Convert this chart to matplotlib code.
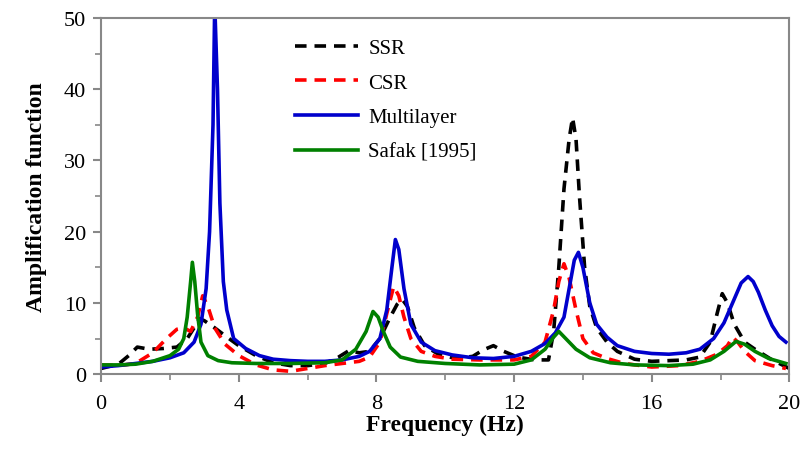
import matplotlib
matplotlib.use("Agg")
from matplotlib import pyplot as plt
from matplotlib.ticker import MultipleLocator

# SSR (black dashed)
ssr_f = [0, 0.5, 0.8, 1.05, 1.4, 1.8, 2.2, 2.5, 2.7, 2.85, 3.0, 3.3, 3.6, 4.0, 4.5, 5.0, 5.5, 6.0, 6.5, 6.9,
         7.2, 7.5, 7.8, 8.1, 8.4, 8.6, 8.75, 8.9, 9.1, 9.4, 9.8, 10.3, 10.8, 11.1, 11.4, 11.7, 12.1, 12.6,
         13.0, 13.15, 13.3, 13.45, 13.6, 13.7, 13.8, 13.9, 14.05, 14.2, 14.4, 14.7, 15.0, 15.5, 16.0, 16.5, 17.0,
         17.4, 17.7, 17.9, 18.05, 18.2, 18.4, 18.7, 19.0, 19.5, 20.0]
ssr_v = [0.8, 1.4, 2.6, 3.8, 3.5, 3.6, 3.8, 5.0, 6.5, 7.8, 7.5, 6.5, 5.4, 4.0, 2.6, 1.6, 1.2, 1.2, 1.5, 2.4,
         3.3, 3.0, 3.2, 5.0, 8.0, 9.8, 10.5, 9.5, 6.5, 4.0, 2.8, 2.2, 2.5, 3.4, 4.0, 3.2, 2.4, 2.0,
         2.0, 6.0, 15.0, 26.0, 33.0, 36.0, 33.0, 25.0, 15.0, 9.5, 6.5, 4.5, 3.2, 2.1, 1.8, 1.9, 2.0,
         2.4, 4.5, 8.5, 11.3, 10.0, 7.0, 4.5, 3.5, 2.0, 0.8]

# CSR (red dashed)
csr_f = [0, 0.5, 1.0, 1.5, 1.9, 2.2, 2.4, 2.6, 2.8, 2.95, 3.1, 3.3, 3.6, 4.0, 4.5, 5.0, 5.5, 6.0, 6.5, 7.0,
         7.5, 7.8, 8.1, 8.3, 8.5, 8.65, 8.8, 9.0, 9.3, 9.7, 10.2, 11.0, 12.0, 12.5, 12.9, 13.15, 13.3, 13.45,
         13.6, 13.8, 14.0, 14.3, 14.7, 15.2, 16.0, 16.8, 17.4, 17.9, 18.2, 18.35, 18.5, 18.7, 19.0, 19.5, 19.9]
csr_v = [1.3, 1.2, 1.5, 3.0, 5.0, 6.3, 6.5, 6.0, 8.0, 11.0, 9.5, 6.5, 4.2, 2.6, 1.3, 0.6, 0.4, 0.8, 1.2, 1.5,
         1.8, 2.4, 4.5, 8.5, 12.3, 11.0, 8.0, 5.0, 3.2, 2.5, 2.1, 2.0, 2.0, 2.5, 4.5, 9.0, 13.0, 15.5,
         13.5, 9.0, 5.0, 3.0, 2.2, 1.5, 1.0, 1.2, 1.8, 2.8, 4.0, 5.2, 4.5, 3.2, 1.9, 1.2, 0.8]

# Multilayer (blue)
mul_f = [0, 0.5, 1.0, 1.5, 2.0, 2.4, 2.7, 2.9, 3.05, 3.15, 3.25, 3.3, 3.38, 3.45, 3.55, 3.65, 3.85, 4.2, 4.6,
         5.0, 5.5, 6.0, 6.5, 7.0, 7.5, 7.8, 8.1, 8.3, 8.45, 8.55, 8.65, 8.8, 9.0, 9.3, 9.7, 10.2, 10.8, 11.4,
         12.0, 12.5, 12.9, 13.2, 13.45, 13.6, 13.75, 13.87, 14.0, 14.2, 14.4, 14.7, 15.0, 15.5, 16.0, 16.5,
         17.0, 17.4, 17.8, 18.1, 18.35, 18.6, 18.8, 18.95, 19.1, 19.3, 19.5, 19.7, 19.9]
mul_v = [1.0, 1.2, 1.5, 1.8, 2.3, 3.0, 4.5, 7.0, 12.0, 20.0, 35.0, 52.0, 40.0, 24.0, 13.0, 9.0, 5.0, 3.6, 2.6,
         2.1, 1.9, 1.8, 1.8, 2.0, 2.5, 3.2, 5.0, 9.0, 15.0, 18.9, 17.5, 12.0, 7.0, 4.5, 3.3, 2.7, 2.3, 2.2,
         2.5, 3.2, 4.3, 5.8, 8.0, 12.0, 16.0, 17.1, 15.0, 10.0, 7.0, 5.2, 4.0, 3.2, 2.9, 2.8,
         3.0, 3.5, 5.0, 7.2, 10.0, 12.8, 13.7, 13.0, 11.5, 9.0, 6.8, 5.3, 4.5]

# Safak [1995] (green)
saf_f = [0, 0.5, 1.0, 1.5, 2.0, 2.25, 2.4, 2.5, 2.6, 2.65, 2.72, 2.8, 2.9, 3.1, 3.4, 3.8, 4.5, 5.5, 6.5, 7.0,
         7.4, 7.7, 7.9, 8.05, 8.2, 8.4, 8.7, 9.2, 10.0, 11.0, 12.0, 12.5, 12.9, 13.15, 13.3, 13.5, 13.8, 14.2,
         14.8, 15.5, 16.5, 17.2, 17.7, 18.1, 18.45, 18.7, 19.0, 19.4, 19.9]
saf_v = [1.3, 1.3, 1.4, 1.8, 2.6, 3.5, 5.0, 8.0, 13.0, 15.7, 13.0, 8.5, 4.5, 2.6, 1.9, 1.6, 1.5, 1.5, 1.6, 2.0,
         3.5, 6.0, 8.8, 8.0, 6.0, 3.8, 2.4, 1.8, 1.5, 1.3, 1.4, 2.0, 3.5, 5.2, 6.0, 5.0, 3.5, 2.3,
         1.6, 1.3, 1.2, 1.4, 2.0, 3.2, 4.6, 4.2, 3.2, 2.2, 1.5]

plt.rcParams['font.family'] = ['Liberation Serif', 'DejaVu Serif']

fig, ax = plt.subplots(figsize=(8.03, 4.52), dpi=100)
fig.subplots_adjust(left=0.126, right=0.983, top=0.958, bottom=0.17)

ax.plot(ssr_f, ssr_v, color='black', lw=2.6, dashes=(3.2, 2.2), label='SSR')
ax.plot(csr_f, csr_v, color='#ff0000', lw=2.6, dashes=(3.2, 2.2), label='CSR')
ax.plot(mul_f, mul_v, color='#0000cc', lw=2.6, label='Multilayer')
ax.plot(saf_f, saf_v, color='#008000', lw=2.6, label='Safak [1995]')

ax.set_xlim(0, 20)
ax.set_ylim(0, 50)
ax.xaxis.set_major_locator(MultipleLocator(4))
ax.xaxis.set_minor_locator(MultipleLocator(2))
ax.yaxis.set_major_locator(MultipleLocator(10))
ax.yaxis.set_minor_locator(MultipleLocator(5))
ax.tick_params(which='both', direction='out', color='#888888', labelsize=16)
ax.tick_params(which='major', length=6, width=1.5)
ax.tick_params(which='minor', length=4, width=1.2)
ax.tick_params(axis='x', pad=8)
ax.tick_params(axis='y', pad=5)
for s in ax.spines.values():
    s.set_color('#888888')
    s.set_linewidth(1.5)

ax.set_xlabel('Frequency (Hz)', fontsize=17, fontweight='bold', labelpad=1)
ax.set_ylabel('Amplification function', fontsize=17, fontweight='bold', labelpad=12)

ax.legend(loc='upper left', bbox_to_anchor=(0.255, 0.995), frameon=False, fontsize=15,
          handlelength=3.0, labelspacing=0.72, handletextpad=0.5)

fig.savefig('out.png', dpi=100)
